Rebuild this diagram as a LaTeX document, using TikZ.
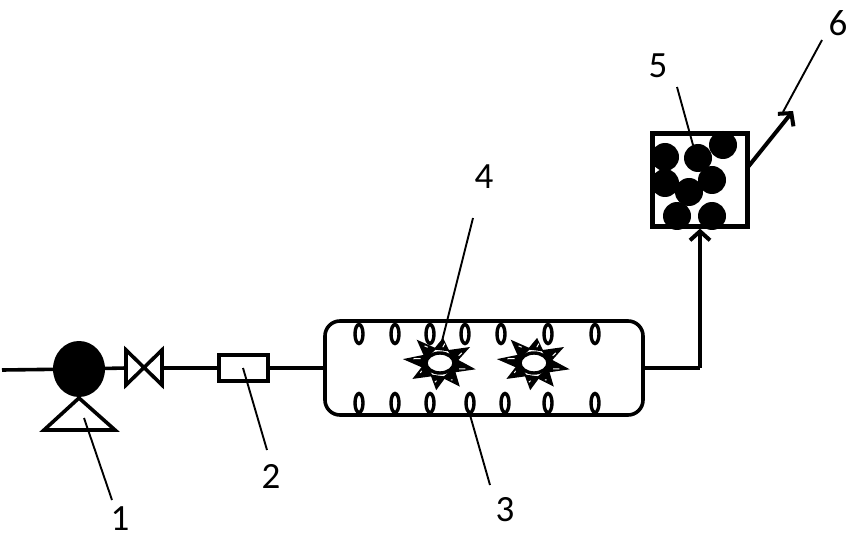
\documentclass[tikz,border=0pt]{standalone}
\usepackage{fontspec}
\setmainfont{Carlito}
\usetikzlibrary{arrows.meta,shapes.geometric}

\tikzset{
	pipe/.style={line width=3.6pt},
	leader/.style={line width=1.9pt},
	num/.style={font=\fontsize{37}{37}\selectfont,inner sep=0pt},
	bead/.style={circle,fill=black,inner sep=0pt,minimum size=28pt},
	hole/.style={ellipse,draw,line width=3.4pt,fill=white,inner sep=0pt,minimum width=8pt,minimum height=19pt},
	flow/.style={-{Straight Barb[length=9pt,width=20pt,line width=4pt]}},
}
\newcommand{\spikes}[1]{
	\foreach \a/\r in {225/31,277/24,332/32,10/34,50/29,98/26,150/30,186/35}{
		\draw[line width=1.4pt,fill=black,shift={(#1)}] (\a-27:15) -- (\a:\r) -- (\a+27:15) -- cycle;
		\draw[line width=1pt,white,shift={(#1)}] (\a+7:20) -- (\a+3:\r-8);
	}
	\node[ellipse,draw,line width=3.4pt,fill=white,inner sep=0pt,minimum width=28pt,minimum height=20pt] at (#1) {};
}

\begin{document}
\begin{tikzpicture}[x=1pt,y=-1pt]
	\useasboundingbox (0,0) rectangle (853,537);

	% pump and valve
	\coordinate (in) at (2,370);
	\node[ellipse,fill=black,inner sep=0pt,minimum width=52pt,minimum height=56pt] (pump) at (79,369) {};
	\coordinate (vl) at (126,368);
	\coordinate (vr) at (162,368);
	\draw[pipe,line join=miter] (79,398) -- (44,430) -- (115,430) -- cycle;
	\draw[pipe] (126,350) -- (162,385) -- (162,350) -- (126,385) -- cycle;

	% filter and reactor
	\node[draw,pipe,fill=white,inner sep=0pt,minimum width=49pt,minimum height=26pt] (filter) at (243.5,368) {};
	\node[draw,pipe,rounded corners=15pt,inner sep=0pt,minimum width=318pt,minimum height=94pt] (reactor) at (484,368) {};
	\coordinate (bend) at (700,368);

	\draw[pipe] (in) -- (pump);
	\draw[pipe] (pump) -- (vl);
	\draw[pipe] (vr) -- (filter);
	\draw[pipe] (filter) -- (reactor);

	% holes
	\foreach \x in {359,395,430,465,501,548,595}
		\node[hole] at (\x,334) {};
	\foreach \x in {359,395,430,470,505,548,595}
		\node[hole] at (\x,403) {};
	\spikes{440,363}
	\spikes{534,363}

	% adsorption box
	\node[bead] (b1) at (665,157) {};
	\node[bead] (b2) at (698,158) {};
	\node[bead] (b3) at (723,145) {};
	\node[bead] (b4) at (665,183) {};
	\node[bead] (b5) at (712,180) {};
	\node[bead] (b6) at (689,192) {};
	\node[bead] (b7) at (677,216) {};
	\node[bead] (b8) at (712,216) {};
	\node[draw,line width=4.2pt,inner sep=0pt,minimum width=95pt,minimum height=93pt] (box) at (700,180) {};

	\draw[pipe] (reactor.east) -- (bend);
	\draw[pipe,flow] (bend) -- (box.south);
	\coordinate (boxout) at (748,167);
	\coordinate (out) at (793,111);
	\draw[line width=4pt,flow] (boxout) -- (out);

	% labels
	\node[num] (n1) at (120,519) {1};
	\node[num] (n2) at (271,476) {2};
	\node[num] (n3) at (505,510) {3};
	\node[num] (n4) at (484,177) {4};
	\node[num] (n5) at (658,66) {5};
	\node[num] (n6) at (838,23) {6};

	\draw[leader] (112,500) -- (84,418);
	\draw[leader] (267,450) -- (243,368);
	\draw[leader] (490,485) -- (470,415);
	\draw[leader] (473,218) -- (441,345);
	\draw[leader] (677,87) -- (693,145);
	\draw[leader] (822,40) -- (783,112);
\end{tikzpicture}
\end{document}
